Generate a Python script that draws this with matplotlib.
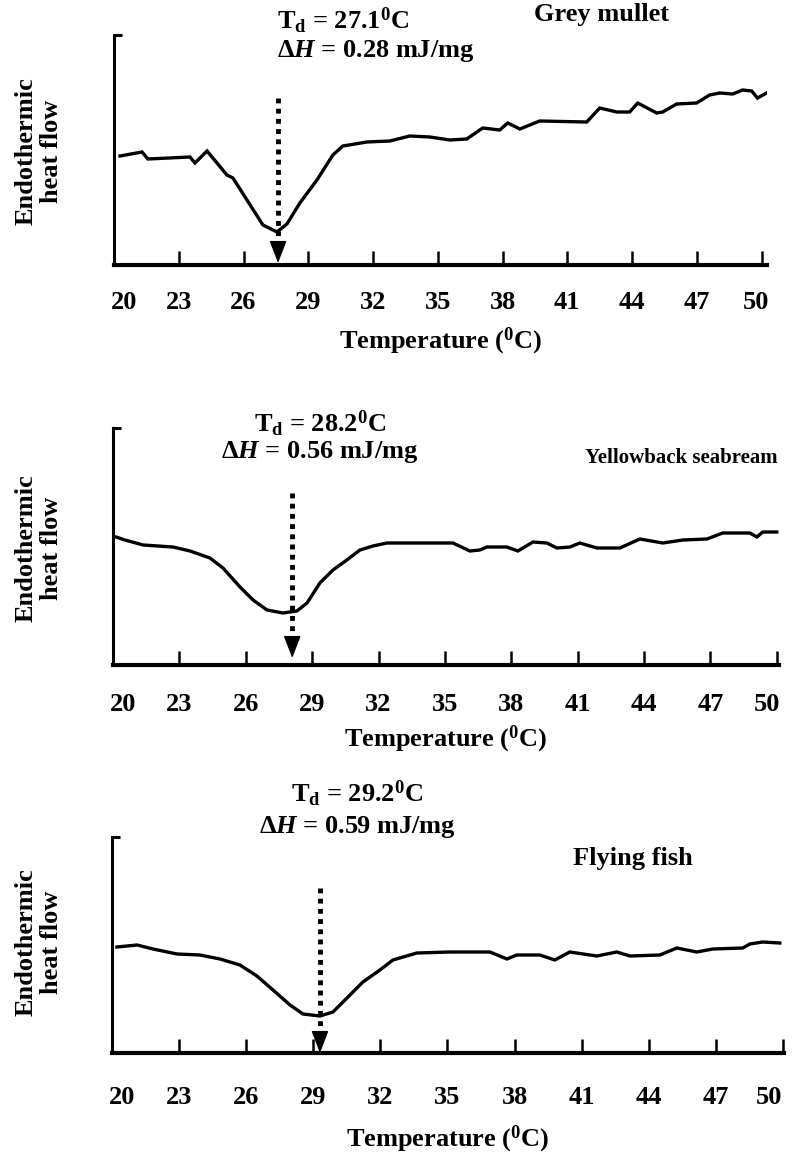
import matplotlib
matplotlib.use('Agg')
import matplotlib.pyplot as plt
from matplotlib.transforms import ScaledTranslation

plt.rcParams['font.family'] = ['Liberation Serif', 'DejaVu Serif']
plt.rcParams['font.weight'] = 'bold'
plt.rcParams['axes.labelweight'] = 'bold'
plt.rcParams['mathtext.fontset'] = 'custom'
plt.rcParams['mathtext.rm'] = 'Liberation Serif:bold'
plt.rcParams['mathtext.it'] = 'Liberation Serif:bold:italic'
plt.rcParams['mathtext.bf'] = 'Liberation Serif:bold'

# DSC thermograms (heat flow in arbitrary units)
grey_t = [20.28, 21.30, 21.57, 23.52, 23.75, 24.31, 25.23, 25.51, 26.16, 26.90, 27.55,
          28.01, 28.61, 29.40, 30.14, 30.60, 31.71, 32.78, 33.70, 34.63, 35.56, 36.34,
          37.08, 37.87, 38.24, 38.80, 39.72, 41.90, 42.50, 43.29, 43.89, 44.26, 45.14,
          45.42, 46.06, 46.99, 47.59, 48.06, 48.66, 49.12, 49.54, 49.81, 50.23]
grey_hf = [109, 113, 106, 108, 102, 114, 90, 87, 65, 40, 33,
           41, 62, 85, 110, 119, 123, 124, 129, 128, 125, 126,
           137, 135, 142, 136, 144, 143, 157, 153, 153, 162, 152,
           153, 161, 162, 170, 172, 171, 175, 174, 167, 172]

yellow_t = [20.00, 20.54, 21.36, 22.71, 23.48, 24.38, 24.97, 25.74, 26.33, 26.96, 27.68,
            28.31, 28.77, 29.35, 29.94, 30.57, 31.16, 31.75, 32.38, 35.36, 36.13, 36.58,
            36.90, 37.80, 38.30, 38.98, 39.61, 40.06, 40.65, 41.10, 41.87, 42.91, 43.81,
            44.85, 45.76, 46.84, 47.56, 48.78, 49.10, 49.37, 50.00]
yellow_hf = [129, 125, 120, 118, 114, 107, 97, 78, 65, 55, 52,
             54, 62, 82, 95, 105, 115, 119, 122, 122, 114, 115,
             118, 118, 114, 123, 122, 117, 118, 122, 117, 117, 126,
             122, 125, 126, 132, 132, 128, 133, 133]

flying_t = [20.22, 21.12, 21.83, 22.91, 23.93, 24.83, 25.72, 26.48, 27.20, 27.96, 28.54,
            29.30, 29.88, 30.51, 31.22, 31.98, 32.56, 33.63, 35.11, 36.90, 37.66, 38.10,
            39.13, 39.80, 40.47, 41.68, 42.57, 43.16, 44.50, 45.26, 46.15, 46.87, 48.21,
            48.52, 49.10, 49.86]
flying_hf = [106, 108, 104, 99, 98, 94, 88, 77, 63, 48, 39,
             37, 41, 55, 71, 83, 93, 100, 101, 101, 94, 98,
             98, 93, 101, 97, 101, 97, 98, 105, 101, 104, 105,
             109, 111, 110]

species = ['Grey mullet', 'Yellowback seabream', 'Flying fish']
td_values = ['27.1', '28.2', '29.2']
dh_values = ['0.28', '0.56', '0.59']
arrow_t = [27.6, 28.1, 29.3]
xticks = list(range(20, 51, 3))

W, H = 792, 1157
fig = plt.figure(figsize=(W / 100, H / 100), dpi=100)


def fx(x):
    return x / W


def fy(y):
    return 1 - y / H


# per panel layout in pixels: left, top, right, bottom, x max
rects = [(114, 35, 767, 265, 50.25), (113, 428, 779, 665, 50.1), (112, 837, 784, 1053, 50.05)]
curves = [(grey_t, grey_hf), (yellow_t, yellow_hf), (flying_t, flying_hf)]
arrow_top = [167, 172, 165]
arrow_tip = [2, 7, 0]
tick_pad = [19, 20, 24]
label_pad = [8, 6, 10]
ylab_y = [151, 548, 942]
td_pos = [(277, 21, 'left'), (320, 424, 'center'), (357, 794, 'center')]
dh_pos = [(277, 51, 'left'), (320, 452, 'center'), (357, 827, 'center')]
sp_pos = [(602, 14, 'center', 19), (778, 458, 'right', 15), (633, 858, 'center', 19)]
last_shift = [-6, -10, -14]

for i in range(3):
    l, t, r, b, xmax = rects[i]
    ax = fig.add_axes([fx(l), fy(b), (r - l) / W, (b - t) / H])
    temps, hf = curves[i]
    ax.plot(temps, hf, color='black', lw=2.4, solid_joinstyle='miter')
    ax.set_xlim(20, xmax)
    ax.set_ylim(0, b - t)

    for s in ['top', 'right']:
        ax.spines[s].set_visible(False)
    ax.spines['left'].set_linewidth(2.2)
    ax.spines['bottom'].set_linewidth(3.0)
    ax.plot([0, 0.012], [1, 1], transform=ax.transAxes, color='black', lw=2.2,
            clip_on=False, solid_capstyle='butt')

    ax.set_yticks([])
    ax.set_xticks(xticks)
    ax.tick_params(axis='x', direction='in', length=10, width=1.8, pad=tick_pad[i],
                   labelsize=19)
    ax.set_xlabel('Temperature ($^\\mathrm{0}$C)', fontsize=19, labelpad=label_pad[i])

    # nudge the end labels like in the original
    labels = ax.get_xticklabels()
    labels[0].set_transform(labels[0].get_transform() + ScaledTranslation(10 / 100, 0, fig.dpi_scale_trans))
    labels[-1].set_transform(labels[-1].get_transform() + ScaledTranslation(last_shift[i] / 100, 0, fig.dpi_scale_trans))

    # dotted arrow marking Td
    xa = arrow_t[i]
    base = arrow_tip[i] + 20
    ax.plot([xa, xa], [arrow_top[i], base], color='black', lw=3.5,
            linestyle=(0, (1, 1.1)), dash_capstyle='butt', clip_on=False)
    ax.annotate('', xy=(xa, arrow_tip[i]), xytext=(xa, base),
                arrowprops=dict(arrowstyle='-|>,head_length=0.7,head_width=0.27',
                                color='black', lw=1, shrinkA=0, shrinkB=0,
                                mutation_scale=20))

    fig.text(fx(39), fy(ylab_y[i]), 'Endothermic\nheat flow', rotation=90,
             ha='center', va='center', fontsize=19, linespacing=1.15)

    x, y, ha = td_pos[i]
    fig.text(fx(x), fy(y), 'T$_\\mathrm{d}$ = ' + td_values[i] + '$^\\mathrm{0}$C',
             ha=ha, va='center', fontsize=19)
    x, y, ha = dh_pos[i]
    fig.text(fx(x), fy(y), '$\\Delta\\mathit{H}$ = ' + dh_values[i] + ' mJ/mg',
             ha=ha, va='center', fontsize=19)
    x, y, ha, fs = sp_pos[i]
    fig.text(fx(x), fy(y), species[i], ha=ha, va='center', fontsize=fs)

fig.savefig('out.png', dpi=100)
